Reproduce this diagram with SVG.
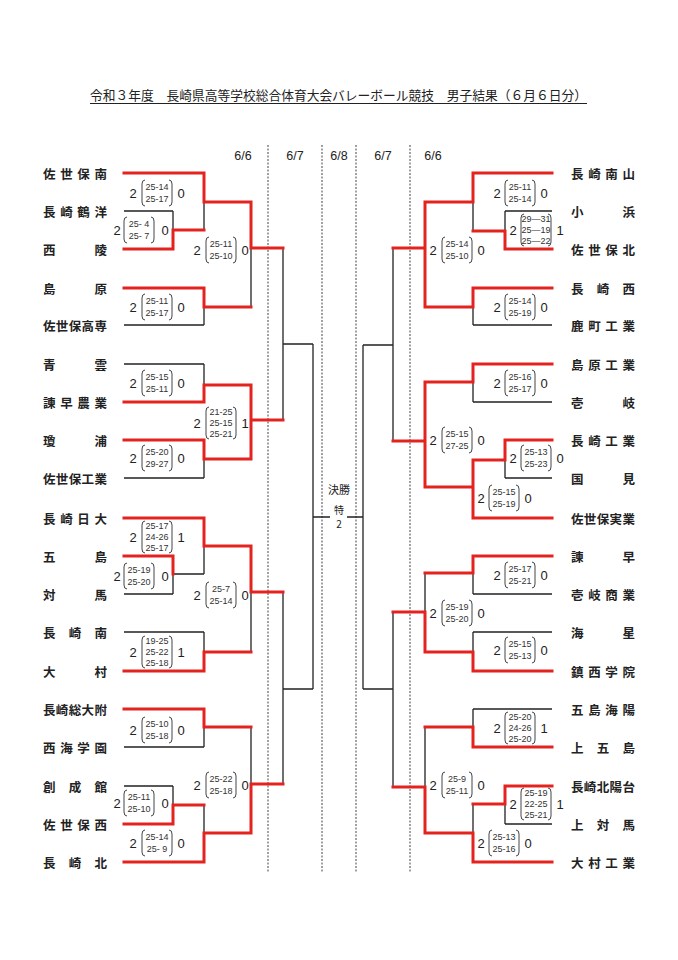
<svg xmlns="http://www.w3.org/2000/svg" xmlns:xlink="http://www.w3.org/1999/xlink" width="678" height="960" viewBox="0 0 678 960">
<style>
.nm{font-family:"Noto Sans CJK JP","Noto Sans CJK SC",sans-serif;font-size:12.5px;font-weight:700;fill:#222;dominant-baseline:central}
.ttl{font-family:"Noto Sans CJK JP","Noto Sans CJK SC",sans-serif;font-size:13px;fill:#222}
.dt{font-family:"Liberation Sans",Arial,sans-serif;font-size:12.5px;fill:#222;text-anchor:middle}
.big{font-family:"Liberation Sans",Arial,sans-serif;font-size:13px;fill:#222;text-anchor:middle;dominant-baseline:central}
.sm{font-family:"Liberation Sans",Arial,sans-serif;font-size:9px;fill:#333;text-anchor:middle;dominant-baseline:central;white-space:pre}
.fin{font-family:"Noto Sans CJK JP","Noto Sans CJK SC",sans-serif;font-size:11px;fill:#222;text-anchor:middle;dominant-baseline:central}
.fin2{font-family:"Noto Sans CJK JP","Noto Sans CJK SC",sans-serif;font-size:10px;fill:#222;text-anchor:middle;dominant-baseline:central}
.blk{fill:none;stroke:#222;stroke-width:1.3}
.red{fill:none;stroke:#e3231e;stroke-width:3;stroke-linecap:square}
.dash{fill:none;stroke:#444;stroke-width:1;stroke-dasharray:2 1.5}
.br{fill:none;stroke:#444;stroke-width:1}
</style>
<defs>
<path id="br2" class="br" d="M3,-13 Q0,-13 0,-9 L0,9 Q0,13 3,13 M27,-13 Q30,-13 30,-9 L30,9 Q30,13 27,13"/>
<path id="br3" class="br" d="M3,-16 Q0,-16 0,-12 L0,12 Q0,16 3,16 M27,-16 Q30,-16 30,-12 L30,12 Q30,16 27,16"/>
</defs>
<rect width="678" height="960" fill="#fff"/>

<g id="title">
<text class="ttl" x="90" y="100" textLength="497" lengthAdjust="spacingAndGlyphs">令和３年度　長崎県高等学校総合体育大会バレーボール競技　男子結果（６月６日分）</text>
<line x1="90" y1="103.5" x2="587" y2="103.5" stroke="#222" stroke-width="1"/>
</g>

<g id="dates">
<text class="dt" x="243" y="160">6/6</text>
<text class="dt" x="295" y="160">6/7</text>
<text class="dt" x="339" y="160">6/8</text>
<text class="dt" x="383" y="160">6/7</text>
<text class="dt" x="433" y="160">6/6</text>
</g>

<g id="dividers">
<line class="dash" x1="268" y1="145" x2="268" y2="872"/>
<line class="dash" x1="322" y1="145" x2="322" y2="872"/>
<line class="dash" x1="356" y1="145" x2="356" y2="872"/>
<line class="dash" x1="410" y1="145" x2="410" y2="872"/>
</g>

<g id="connectors">
<path class="blk" d="
M124,173H204 M124,211H173 M124,249H173 M173,211V249 M173,230H204 M204,173V230 M204,202H251 M124,288H204 M124,325H204 M204,288V325 M204,307H251 M251,202V307 M251,248H283
M124,364H204 M124,402H204 M204,364V402 M204,385H251 M124,440H204 M124,478H204 M204,440V478 M204,459H251 M251,385V459 M251,420H283 M283,248V420 M283,344H313
M124,518H204 M124,556H173 M124,594H173 M173,556V594 M173,574H204 M204,518V574 M204,546H251 M124,632H204 M124,671H204 M204,632V671 M204,652H251 M251,546V652 M251,592H283
M124,709H204 M124,747H204 M204,709V747 M204,727H251 M124,786H173 M124,824H173 M173,786V824 M173,805H204 M124,862H204 M204,805V862 M204,833H251 M251,727V833 M251,784H283 M283,592V784 M283,689H313
M313,344V689 M313,517H330 M347,517H363 M363,345V689
M473,173H552 M505,211H552 M505,249H552 M505,211V249 M473,231H505 M473,173V231 M425,202H473 M473,288H552 M473,325H552 M473,288V325 M425,307H473 M425,202V307 M393,248H425
M473,364H552 M473,402H552 M473,364V402 M425,382H473 M505,440H552 M505,478H552 M505,440V478 M473,460H505 M473,518H552 M473,460V518 M425,487H473 M425,382V487 M393,441H425 M393,248V441 M363,345H393
M473,556H552 M473,594H552 M473,556V594 M425,573H473 M473,632H552 M473,671H552 M473,632V671 M425,652H473 M425,573V652 M393,612H425
M473,709H552 M473,747H552 M473,709V747 M425,727H473 M505,786H552 M505,824H552 M505,786V824 M473,804H505 M473,862H552 M473,804V862 M425,833H473 M425,727V833 M393,787H425 M393,612V787 M363,689H393"/>
<path class="red" d="
M124,173H204 M124,249H173 M173,230V249 M173,230H204 M204,173V202 M204,202H251 M124,288H204 M204,288V307 M204,307H251 M251,202V248 M251,248H283
M124,402H204 M204,385V402 M204,385H251 M124,440H204 M204,440V459 M204,459H251 M251,385V459 M251,420H283
M124,518H204 M124,556H173 M173,556V574 M204,518V546 M204,546H251 M124,671H204 M204,652V671 M204,652H251 M251,546V592 M251,592H283
M124,709H204 M204,709V727 M204,727H251 M124,824H173 M173,805V824 M173,805H204 M124,862H204 M204,833V862 M204,833H251 M251,784V833 M251,784H283
M473,173H552 M473,173V202 M425,202H473 M505,249H552 M505,231V249 M473,231H505 M473,288H552 M473,288V307 M425,307H473 M425,202V307 M393,248H425
M473,364H552 M473,364V382 M425,382H473 M505,440H552 M505,440V460 M473,460H505 M473,518H552 M473,460V518 M425,487H473 M425,382V487 M393,441H425
M473,556H552 M473,556V573 M425,573H473 M473,671H552 M473,652V671 M425,652H473 M425,612V652 M393,612H425
M473,747H552 M473,727V747 M425,727H473 M505,786H552 M505,786V804 M473,804H505 M473,862H552 M473,833V862 M425,833H473 M425,787V833 M393,787H425"/>
</g>

<g id="final">
<text class="fin" x="339" y="489">決勝</text>
<text class="fin2" x="339" y="509.5">特</text>
<text class="fin2" x="339" y="523.5">2</text>
</g>

<g id="teams-left">
<g id="tL01"><text class="nm" x="43" y="173" textLength="64" lengthAdjust="spacing">佐世保南</text></g>
<g id="tL02"><text class="nm" x="43" y="211" textLength="64" lengthAdjust="spacing">長崎鶴洋</text></g>
<g id="tL03"><text class="nm" x="43" y="249" textLength="64" lengthAdjust="spacing">西陵</text></g>
<g id="tL04"><text class="nm" x="43" y="288" textLength="64" lengthAdjust="spacing">島原</text></g>
<g id="tL05"><text class="nm" x="43" y="325" textLength="64" lengthAdjust="spacing">佐世保高専</text></g>
<g id="tL06"><text class="nm" x="43" y="364" textLength="64" lengthAdjust="spacing">青雲</text></g>
<g id="tL07"><text class="nm" x="43" y="402" textLength="64" lengthAdjust="spacing">諫早農業</text></g>
<g id="tL08"><text class="nm" x="43" y="440" textLength="64" lengthAdjust="spacing">瓊浦</text></g>
<g id="tL09"><text class="nm" x="43" y="478" textLength="64" lengthAdjust="spacing">佐世保工業</text></g>
<g id="tL10"><text class="nm" x="43" y="518" textLength="64" lengthAdjust="spacing">長崎日大</text></g>
<g id="tL11"><text class="nm" x="43" y="556" textLength="64" lengthAdjust="spacing">五島</text></g>
<g id="tL12"><text class="nm" x="43" y="594" textLength="64" lengthAdjust="spacing">対馬</text></g>
<g id="tL13"><text class="nm" x="43" y="632" textLength="64" lengthAdjust="spacing">長崎南</text></g>
<g id="tL14"><text class="nm" x="43" y="671" textLength="64" lengthAdjust="spacing">大村</text></g>
<g id="tL15"><text class="nm" x="43" y="709" textLength="64" lengthAdjust="spacing">長崎総大附</text></g>
<g id="tL16"><text class="nm" x="43" y="747" textLength="64" lengthAdjust="spacing">西海学園</text></g>
<g id="tL17"><text class="nm" x="43" y="786" textLength="64" lengthAdjust="spacing">創成館</text></g>
<g id="tL18"><text class="nm" x="43" y="824" textLength="64" lengthAdjust="spacing">佐世保西</text></g>
<g id="tL19"><text class="nm" x="43" y="862" textLength="64" lengthAdjust="spacing">長崎北</text></g>
</g>

<g id="teams-right">
<g id="tR01"><text class="nm" x="571" y="173" textLength="64" lengthAdjust="spacing">長崎南山</text></g>
<g id="tR02"><text class="nm" x="571" y="211" textLength="64" lengthAdjust="spacing">小浜</text></g>
<g id="tR03"><text class="nm" x="571" y="249" textLength="64" lengthAdjust="spacing">佐世保北</text></g>
<g id="tR04"><text class="nm" x="571" y="288" textLength="64" lengthAdjust="spacing">長崎西</text></g>
<g id="tR05"><text class="nm" x="571" y="325" textLength="64" lengthAdjust="spacing">鹿町工業</text></g>
<g id="tR06"><text class="nm" x="571" y="364" textLength="64" lengthAdjust="spacing">島原工業</text></g>
<g id="tR07"><text class="nm" x="571" y="402" textLength="64" lengthAdjust="spacing">壱岐</text></g>
<g id="tR08"><text class="nm" x="571" y="440" textLength="64" lengthAdjust="spacing">長崎工業</text></g>
<g id="tR09"><text class="nm" x="571" y="478" textLength="64" lengthAdjust="spacing">国見</text></g>
<g id="tR10"><text class="nm" x="571" y="518" textLength="64" lengthAdjust="spacing">佐世保実業</text></g>
<g id="tR11"><text class="nm" x="571" y="556" textLength="64" lengthAdjust="spacing">諫早</text></g>
<g id="tR12"><text class="nm" x="571" y="594" textLength="64" lengthAdjust="spacing">壱岐商業</text></g>
<g id="tR13"><text class="nm" x="571" y="632" textLength="64" lengthAdjust="spacing">海星</text></g>
<g id="tR14"><text class="nm" x="571" y="671" textLength="64" lengthAdjust="spacing">鎮西学院</text></g>
<g id="tR15"><text class="nm" x="571" y="709" textLength="64" lengthAdjust="spacing">五島海陽</text></g>
<g id="tR16"><text class="nm" x="571" y="747" textLength="64" lengthAdjust="spacing">上五島</text></g>
<g id="tR17"><text class="nm" x="571" y="786" textLength="64" lengthAdjust="spacing">長崎北陽台</text></g>
<g id="tR18"><text class="nm" x="571" y="824" textLength="64" lengthAdjust="spacing">上対馬</text></g>
<g id="tR19"><text class="nm" x="571" y="862" textLength="64" lengthAdjust="spacing">大村工業</text></g>
</g>

<g id="scores-left">
<g id="sL01"><text class="big" x="133" y="193">2</text><use xlink:href="#br2" x="142" y="193"/><text class="sm" x="157" y="187">25-14</text><text class="sm" x="157" y="199">25-17</text><text class="big" x="181" y="193">0</text></g>
<g id="sL02"><text class="big" x="117" y="230">2</text><use xlink:href="#br2" x="124" y="230"/><text class="sm" x="139" y="224">25- 4</text><text class="sm" x="139" y="236">25- 7</text><text class="big" x="165" y="230">0</text></g>
<g id="sL03"><text class="big" x="133" y="307">2</text><use xlink:href="#br2" x="142" y="307"/><text class="sm" x="157" y="301">25-11</text><text class="sm" x="157" y="313">25-17</text><text class="big" x="181" y="307">0</text></g>
<g id="sL04"><text class="big" x="197" y="250">2</text><use xlink:href="#br2" x="206" y="250"/><text class="sm" x="221" y="244">25-11</text><text class="sm" x="221" y="256">25-10</text><text class="big" x="245" y="250">0</text></g>
<g id="sL05"><text class="big" x="133" y="383">2</text><use xlink:href="#br2" x="142" y="383"/><text class="sm" x="157" y="377">25-15</text><text class="sm" x="157" y="389">25-11</text><text class="big" x="181" y="383">0</text></g>
<g id="sL06"><text class="big" x="133" y="458">2</text><use xlink:href="#br2" x="142" y="458"/><text class="sm" x="157" y="452">25-20</text><text class="sm" x="157" y="464">29-27</text><text class="big" x="181" y="458">0</text></g>
<g id="sL07"><text class="big" x="197" y="423">2</text><use xlink:href="#br3" x="206" y="423"/><text class="sm" x="221" y="412">21-25</text><text class="sm" x="221" y="423">25-15</text><text class="sm" x="221" y="434">25-21</text><text class="big" x="245" y="423">1</text></g>
<g id="sL08"><text class="big" x="133" y="537">2</text><use xlink:href="#br3" x="142" y="537"/><text class="sm" x="157" y="526">25-17</text><text class="sm" x="157" y="537">24-26</text><text class="sm" x="157" y="548">25-17</text><text class="big" x="181" y="537">1</text></g>
<g id="sL09"><text class="big" x="117" y="576">2</text><use xlink:href="#br2" x="124" y="576"/><text class="sm" x="139" y="570">25-19</text><text class="sm" x="139" y="582">25-20</text><text class="big" x="165" y="576">0</text></g>
<g id="sL10"><text class="big" x="133" y="652">2</text><use xlink:href="#br3" x="142" y="652"/><text class="sm" x="157" y="641">19-25</text><text class="sm" x="157" y="652">25-22</text><text class="sm" x="157" y="663">25-18</text><text class="big" x="181" y="652">1</text></g>
<g id="sL11"><text class="big" x="197" y="595">2</text><use xlink:href="#br2" x="206" y="595"/><text class="sm" x="221" y="589">25-7</text><text class="sm" x="221" y="601">25-14</text><text class="big" x="245" y="595">0</text></g>
<g id="sL12"><text class="big" x="133" y="730">2</text><use xlink:href="#br2" x="142" y="730"/><text class="sm" x="157" y="724">25-10</text><text class="sm" x="157" y="736">25-18</text><text class="big" x="181" y="730">0</text></g>
<g id="sL13"><text class="big" x="117" y="803">2</text><use xlink:href="#br2" x="124" y="803"/><text class="sm" x="139" y="797">25-11</text><text class="sm" x="139" y="809">25-10</text><text class="big" x="165" y="803">0</text></g>
<g id="sL14"><text class="big" x="133" y="843">2</text><use xlink:href="#br2" x="142" y="843"/><text class="sm" x="157" y="837">25-14</text><text class="sm" x="157" y="849">25- 9</text><text class="big" x="181" y="843">0</text></g>
<g id="sL15"><text class="big" x="197" y="785">2</text><use xlink:href="#br2" x="206" y="785"/><text class="sm" x="221" y="779">25-22</text><text class="sm" x="221" y="791">25-18</text><text class="big" x="245" y="785">0</text></g>
</g>

<g id="scores-right">
<g id="sR01"><text class="big" x="497" y="193">2</text><use xlink:href="#br2" x="505" y="193"/><text class="sm" x="520" y="187">25-11</text><text class="sm" x="520" y="199">25-14</text><text class="big" x="544" y="193">0</text></g>
<g id="sR02"><text class="big" x="513" y="230">2</text><use xlink:href="#br3" x="521" y="230"/><text class="sm" x="536" y="219">29—31</text><text class="sm" x="536" y="230">25—19</text><text class="sm" x="536" y="241">25—22</text><text class="big" x="560" y="230">1</text></g>
<g id="sR03"><text class="big" x="497" y="307">2</text><use xlink:href="#br2" x="505" y="307"/><text class="sm" x="520" y="301">25-14</text><text class="sm" x="520" y="313">25-19</text><text class="big" x="544" y="307">0</text></g>
<g id="sR04"><text class="big" x="433" y="250">2</text><use xlink:href="#br2" x="442" y="250"/><text class="sm" x="457" y="244">25-14</text><text class="sm" x="457" y="256">25-10</text><text class="big" x="481" y="250">0</text></g>
<g id="sR05"><text class="big" x="497" y="383">2</text><use xlink:href="#br2" x="505" y="383"/><text class="sm" x="520" y="377">25-16</text><text class="sm" x="520" y="389">25-17</text><text class="big" x="544" y="383">0</text></g>
<g id="sR06"><text class="big" x="513" y="458">2</text><use xlink:href="#br2" x="521" y="458"/><text class="sm" x="536" y="452">25-13</text><text class="sm" x="536" y="464">25-23</text><text class="big" x="560" y="458">0</text></g>
<g id="sR07"><text class="big" x="481" y="498">2</text><use xlink:href="#br2" x="489" y="498"/><text class="sm" x="504" y="492">25-15</text><text class="sm" x="504" y="504">25-19</text><text class="big" x="528" y="498">0</text></g>
<g id="sR08"><text class="big" x="433" y="440">2</text><use xlink:href="#br2" x="442" y="440"/><text class="sm" x="457" y="434">25-15</text><text class="sm" x="457" y="446">27-25</text><text class="big" x="481" y="440">0</text></g>
<g id="sR09"><text class="big" x="497" y="575">2</text><use xlink:href="#br2" x="505" y="575"/><text class="sm" x="520" y="569">25-17</text><text class="sm" x="520" y="581">25-21</text><text class="big" x="544" y="575">0</text></g>
<g id="sR10"><text class="big" x="497" y="650">2</text><use xlink:href="#br2" x="505" y="650"/><text class="sm" x="520" y="644">25-15</text><text class="sm" x="520" y="656">25-13</text><text class="big" x="544" y="650">0</text></g>
<g id="sR11"><text class="big" x="433" y="613">2</text><use xlink:href="#br2" x="442" y="613"/><text class="sm" x="457" y="607">25-19</text><text class="sm" x="457" y="619">25-20</text><text class="big" x="481" y="613">0</text></g>
<g id="sR12"><text class="big" x="497" y="728">2</text><use xlink:href="#br3" x="505" y="728"/><text class="sm" x="520" y="717">25-20</text><text class="sm" x="520" y="728">24-26</text><text class="sm" x="520" y="739">25-20</text><text class="big" x="544" y="728">1</text></g>
<g id="sR13"><text class="big" x="513" y="804">2</text><use xlink:href="#br3" x="521" y="804"/><text class="sm" x="536" y="793">25-19</text><text class="sm" x="536" y="804">22-25</text><text class="sm" x="536" y="815">25-21</text><text class="big" x="560" y="804">1</text></g>
<g id="sR14"><text class="big" x="481" y="843">2</text><use xlink:href="#br2" x="489" y="843"/><text class="sm" x="504" y="837">25-13</text><text class="sm" x="504" y="849">25-16</text><text class="big" x="528" y="843">0</text></g>
<g id="sR15"><text class="big" x="433" y="785">2</text><use xlink:href="#br2" x="442" y="785"/><text class="sm" x="457" y="779">25-9</text><text class="sm" x="457" y="791">25-11</text><text class="big" x="481" y="785">0</text></g>
</g>
</svg>
